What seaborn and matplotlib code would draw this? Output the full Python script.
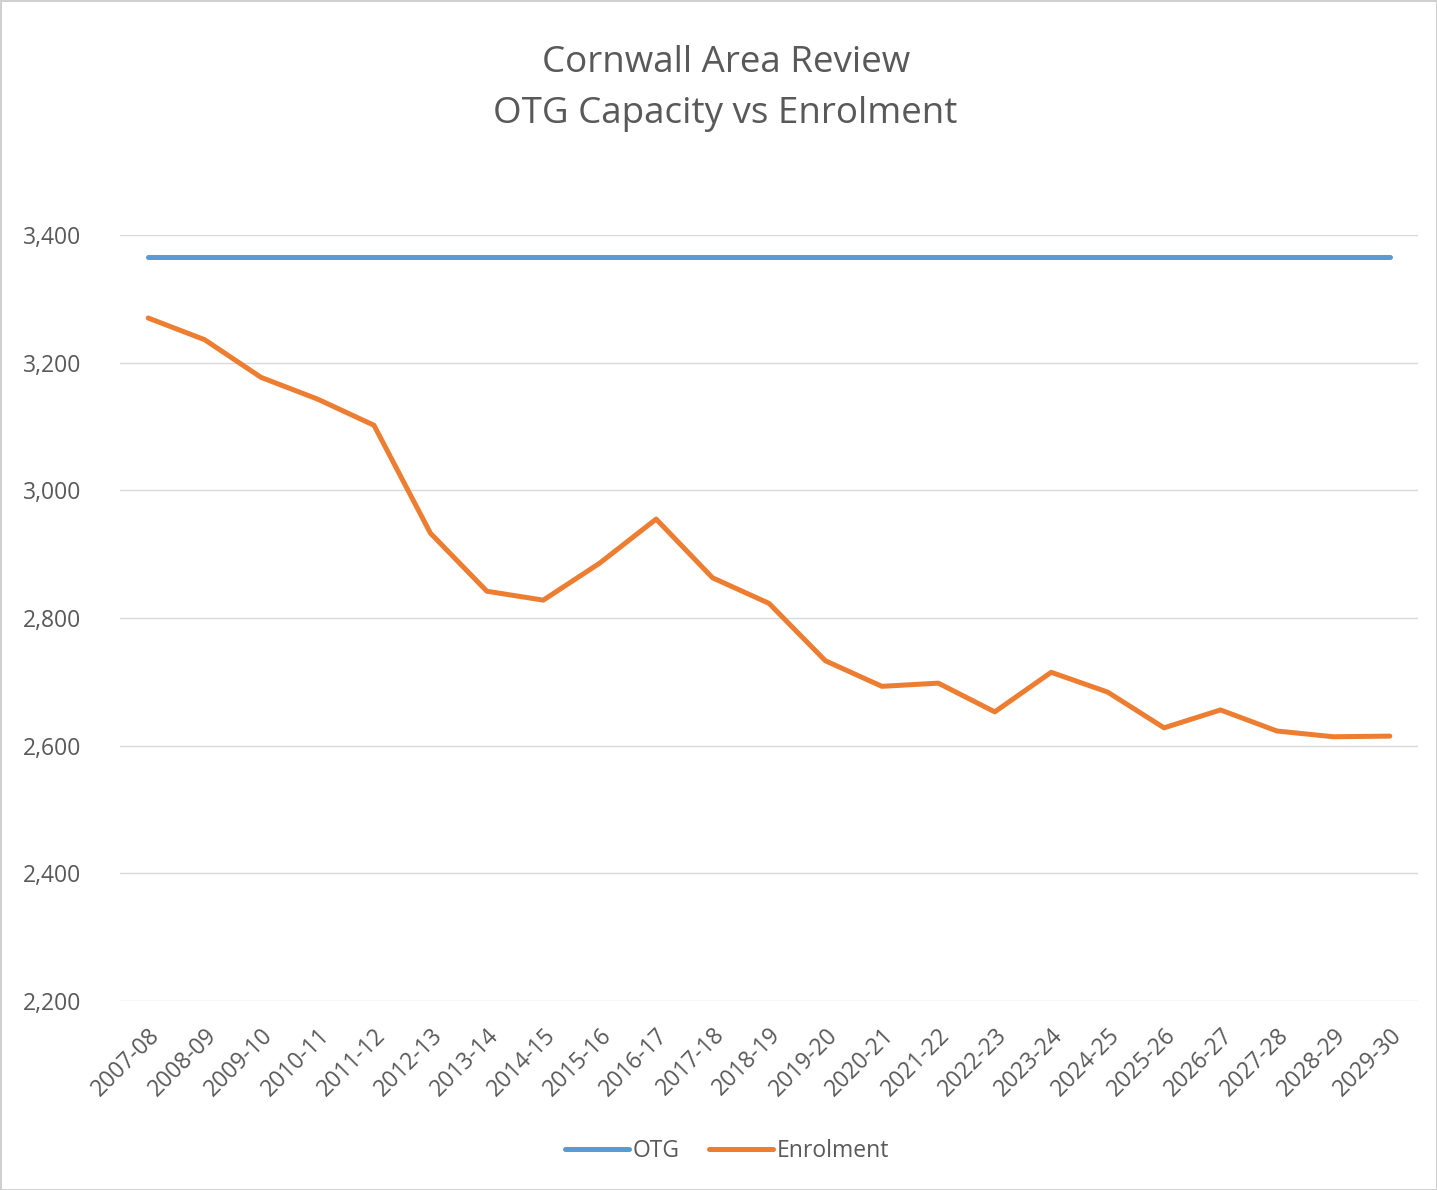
import pandas as pd
import matplotlib
matplotlib.use("Agg")
import matplotlib.pyplot as plt
import seaborn as sns

years = ["2007-08", "2008-09", "2009-10", "2010-11", "2011-12", "2012-13",
         "2013-14", "2014-15", "2015-16", "2016-17", "2017-18", "2018-19",
         "2019-20", "2020-21", "2021-22", "2022-23", "2023-24", "2024-25",
         "2025-26", "2026-27", "2027-28", "2028-29", "2029-30"]
otg = [3366] * len(years)
enrolment = [3270, 3236, 3177, 3143, 3102, 2933, 2842, 2828, 2886, 2955,
             2863, 2823, 2733, 2693, 2698, 2653, 2715, 2684, 2628, 2656,
             2623, 2614, 2615]
y_ticks = [2200, 2400, 2600, 2800, 3000, 3200, 3400]

df = pd.DataFrame({"year": years * 2,
                   "pos": list(range(len(years))) * 2,
                   "value": otg + enrolment,
                   "series": ["OTG"] * len(years) + ["Enrolment"] * len(years)})

sns.set_style("white")
plt.rcParams["font.family"] = ["Open Sans", "DejaVu Sans"]
grey = "#595959"

fig = plt.figure(figsize=(14.37, 11.9), dpi=100)
ax = fig.add_axes([0.0835, 0.1588, 0.9033, 0.6437])

sns.lineplot(data=df, x="pos", y="value", hue="series",
             palette={"OTG": "#5B9BD5", "Enrolment": "#ED7D31"},
             linewidth=3.6, ax=ax, legend=True)

ax.set_xlim(-0.5, len(years) - 0.5)
ax.set_ylim(2200, 3400)
ax.set_yticks(y_ticks)
ax.set_yticklabels([f"{v:,}" for v in y_ticks])
ax.set_xticks(range(len(years)))
ax.set_xticklabels(years, rotation=45, ha="right", rotation_mode="anchor")
ax.tick_params(axis="both", length=0, labelsize=16.5, colors=grey)
ax.tick_params(axis="x", pad=16)
ax.tick_params(axis="y", pad=28)
ax.grid(axis="y", color="#D9D9D9", linewidth=1)
ax.set_axisbelow(True)
for s in ax.spines.values():
    s.set_visible(False)
ax.set_xlabel("")
ax.set_ylabel("")

# legend at the bottom, centred on the figure
handles, labels = ax.get_legend_handles_labels()
ax.get_legend().remove()
fig.legend(handles, labels, loc="center", bbox_to_anchor=(0.506, 0.033),
           ncol=2, frameon=False, fontsize=16.5, handlelength=2.8,
           handletextpad=0.15, columnspacing=1.3, labelcolor=grey)

fig.text(0.505, 0.947, "Cornwall Area Review", ha="center", va="center",
         fontsize=26.5, color=grey)
fig.text(0.505, 0.904, "OTG Capacity vs Enrolment", ha="center", va="center",
         fontsize=26.5, color=grey)

fig.patch.set_edgecolor("#D0D0D0")
fig.patch.set_linewidth(2)

fig.savefig("out.png", dpi=100, facecolor="white", edgecolor=fig.get_edgecolor())
